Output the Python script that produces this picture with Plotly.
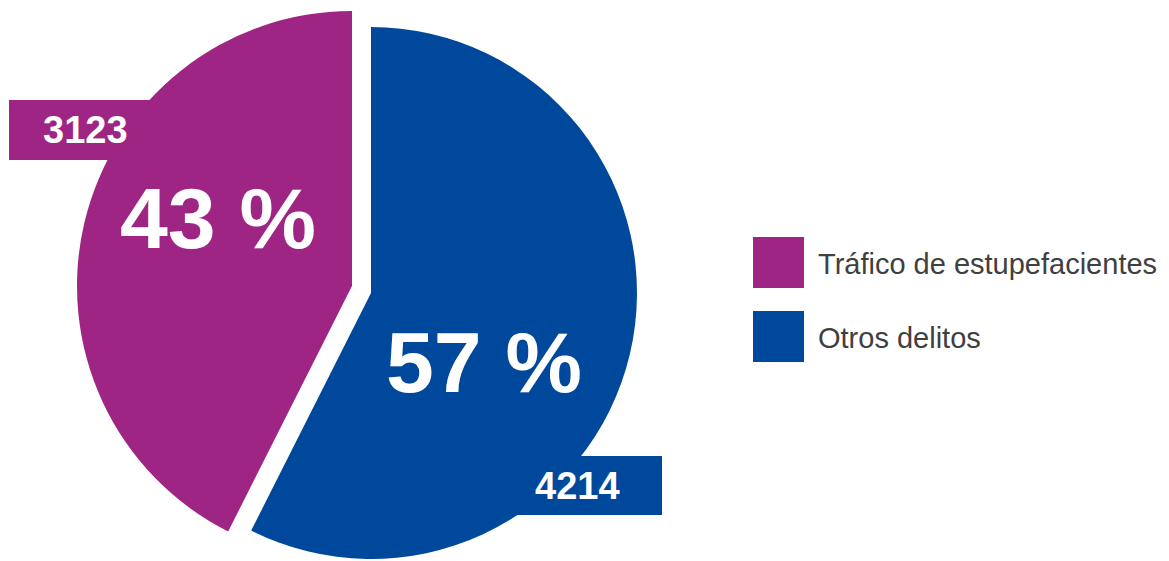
import plotly.graph_objects as go

# ---- data ----
labels = ["Otros delitos", "Tráfico de estupefacientes"]
values = [4214, 3123]
colors = ["#00489B", "#9E2584"]
legend_order = ["Tráfico de estupefacientes", "Otros delitos"]

# page body has an 8px margin, so the figure is placed at (8, 8) in the window
OFF = 8
W, H = 1169 - OFF, 561 - OFF
TRANSPARENT = "rgba(0,0,0,0)"
FONT = "Liberation Sans"
TEXT_GREY = "#404040"


def px(x):
    return (x - OFF) / W


def py(y):
    return 1 - (y - OFF) / H


def clamp(v):
    return min(1.0, max(0.0, v))


def domain(cx, cy, r):
    return dict(x=[clamp(px(cx - r)), clamp(px(cx + r))],
                y=[clamp(py(cy + r)), clamp(py(cy - r))])


# each slice drawn by its own pie trace (the other slice transparent),
# so the two slices can have their own centre / radius, as in the original
pie_geom = {
    "Otros delitos": (371, 293, 266),
    "Tráfico de estupefacientes": (352, 286, 275),
}

fig = go.Figure()
for i, lab in enumerate(labels):
    cx, cy, r = pie_geom[lab]
    cols = [c if j == i else TRANSPARENT for j, c in enumerate(colors)]
    fig.add_trace(go.Pie(
        labels=labels, values=values, sort=False, direction="clockwise",
        rotation=0, marker=dict(colors=cols, line=dict(width=0)),
        textinfo="none", hoverinfo="skip", showlegend=False,
        domain=domain(cx, cy, r),
    ))

total = sum(values)
pct_text = {lab: f"{round(v / total * 100)} %" for lab, v in zip(labels, values)}
val_text = {lab: f"{v}" for lab, v in zip(labels, values)}
color_of = dict(zip(labels, colors))

# positions (pixels) of percentage labels and value boxes
pct_pos = {"Tráfico de estupefacientes": (218, 218), "Otros delitos": (484, 362)}
box_pos = {"Tráfico de estupefacientes": (9, 100, 161, 160),
           "Otros delitos": (493, 456, 662, 515)}

shapes = []
annotations = []
for lab in labels:
    x0, y0, x1, y1 = box_pos[lab]
    shapes.append(dict(type="rect", xref="paper", yref="paper",
                       x0=px(x0), x1=px(x1), y0=py(y1), y1=py(y0),
                       fillcolor=color_of[lab], line=dict(width=0), layer="above"))
    annotations.append(dict(xref="paper", yref="paper",
                            x=px((x0 + x1) / 2), y=py((y0 + y1) / 2),
                            text=f"<b>{val_text[lab]}</b>", showarrow=False,
                            xanchor="center", yanchor="middle",
                            font=dict(family=FONT, size=38, color="white")))
    cx, cy = pct_pos[lab]
    annotations.append(dict(xref="paper", yref="paper", x=px(cx), y=py(cy),
                            text=f"<b>{pct_text[lab]}</b>", showarrow=False,
                            xanchor="center", yanchor="middle",
                            font=dict(family=FONT, size=86, color="white")))

# legend (large square swatches)
leg_y = [262.5, 336.5]
for lab, yc in zip(legend_order, leg_y):
    shapes.append(dict(type="rect", xref="paper", yref="paper",
                       x0=px(753), x1=px(804), y0=py(yc + 25.5), y1=py(yc - 25.5),
                       fillcolor=color_of[lab], line=dict(width=0)))
    annotations.append(dict(xref="paper", yref="paper", x=px(816), y=py(yc + 1),
                            text=lab, showarrow=False, xanchor="left",
                            yanchor="middle",
                            font=dict(family=FONT, size=29, color=TEXT_GREY)))

fig.update_layout(
    width=W, height=H, margin=dict(l=0, r=0, t=0, b=0),
    paper_bgcolor="white", plot_bgcolor="white",
    shapes=shapes, annotations=annotations, showlegend=False,
)

fig.write_html("out.html")
